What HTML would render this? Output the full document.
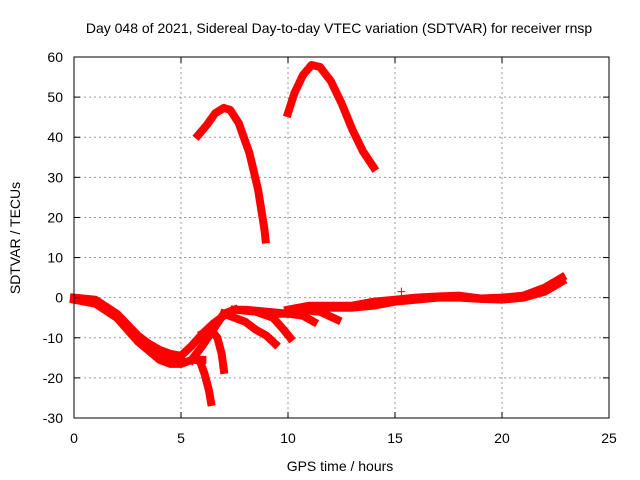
<!DOCTYPE html>
<html><head><meta charset="utf-8"><style>
body{margin:0;background:#fff;}
svg{display:block;font-family:"Liberation Sans",sans-serif;}
</style></head><body>
<svg id="chart" width="640" height="480" viewBox="0 0 640 480">
<rect width="640" height="480" fill="#fff"/>
<text x="339" y="33" font-size="14" text-anchor="middle">Day 048 of 2021, Sidereal Day-to-day VTEC variation (SDTVAR) for receiver rnsp</text>
<g id="grid"></g>
<g id="series"></g>
<rect x="74" y="57" width="535" height="361" fill="none" stroke="#000" stroke-width="1"/>
<g id="ticks"></g>
<text x="340" y="471" font-size="14" text-anchor="middle">GPS time / hours</text>
<text transform="translate(20,238) rotate(-90)" font-size="14" text-anchor="middle">SDTVAR / TECUs</text>
</svg>
<script>
const xTicks=[0,5,10,15,20,25];
const yTicks=[-30,-20,-10,0,10,20,30,40,50,60];
const trackLower=[[0,-0.5],[1,-1.5],[2,-5],[3,-11],[4,-15.5],[4.5,-16.5],[5,-16.5],[5.5,-15.5],[6,-15.5]];
const trackMid=[[0,-0.3],[1,-1],[2,-4.5],[3,-10.5],[4,-14.5],[4.5,-15.5],[5,-15.5]];
const trackUpper=[[0,0],[1,-0.5],[2,-4],[3,-9.5],[3.5,-11.5],[4,-13],[4.5,-14],[5,-14.5],[5.5,-12],[6,-9],[6.5,-6.5],[7,-4.5],[7.5,-3],[8,-3],[9,-3.5],[10,-4],[11,-3],[12,-2.5],[13,-2.5],[14,-2],[15,-1],[16,-0.5],[17,0],[18,0],[19,-0.3],[20,-0.5],[21,0],[22,1.5],[22.8,4]];
const trackUpper2=[[10,-3],[11,-2],[12,-2],[13,-2],[14,-1],[15,-0.5],[16,0],[17,0.3],[18,0.5],[19,-0.2],[20,0],[21,0.5],[22,2.5],[22.8,5]];
const trackDrop=[[5.6,-15],[5.9,-16],[6.1,-19],[6.3,-23],[6.4,-26]];
const trackHook=[[6.0,-9],[6.4,-8],[6.7,-10],[6.9,-14],[7.0,-18]];
const trackRise=[[5.5,-15.5],[6,-12],[6.5,-8],[7,-4],[7.5,-3]];
const branchA=[[7,-4],[8,-6],[8.5,-8],[9,-9.5],[9.4,-11.5]];
const branchB=[[7.5,-3],[8.5,-3.5],[9.3,-5],[9.8,-8],[10.1,-10]];
const branchC=[[9,-4],[10,-4],[10.7,-4.5],[11.2,-6]];
const branchD=[[10.5,-3],[11.5,-3.5],[12.3,-5.5]];
const peak1=[[5.8,40.5],[6.2,43],[6.6,46],[7,47.3],[7.3,46.8],[7.7,43.5],[8.2,36],[8.6,27],[8.9,17],[8.95,14.5]];
const peak2=[[10,46],[10.3,51],[10.7,55.5],[11.1,58],[11.5,57.5],[12,54],[12.5,48.5],[13,42],[13.5,36.5],[14,32.5]];
const tracks=[trackLower,trackMid,trackUpper,trackUpper2,trackDrop,trackHook,trackRise,branchA,branchB,branchC,branchD,peak1,peak2];
const marker=[[15.3,1.5]];
const X=h=>74+h*535/25;
const Y=v=>57+(60-v)*361/90;
const NS='http://www.w3.org/2000/svg';
const grid=document.getElementById('grid'),ticks=document.getElementById('ticks'),series=document.getElementById('series');
function mk(t,a,p){const e=document.createElementNS(NS,t);for(const k in a)e.setAttribute(k,a[k]);p.appendChild(e);return e;}
xTicks.forEach(t=>{
 if(t>0&&t<25){const g=mk('line',{x1:X(t),x2:X(t),y1:57,y2:418,stroke:'#999','stroke-dasharray':'2,3'},grid);
 
 }
 const a=mk('line',{x1:X(t),x2:X(t),y1:418,y2:412,stroke:'#000'},ticks);
 
 
 mk('line',{x1:X(t),x2:X(t),y1:57,y2:63,stroke:'#000'},ticks);
 const l=mk('text',{x:X(t),y:443,'font-size':14,'text-anchor':'middle'},ticks);l.textContent=t;
 
 
});
yTicks.forEach(t=>{
 if(t>-30&&t<60){const g=mk('line',{x1:74,x2:609,y1:Y(t),y2:Y(t),stroke:'#999','stroke-dasharray':'2,3'},grid);
 
 }
 const a=mk('line',{x1:74,x2:80,y1:Y(t),y2:Y(t),stroke:'#000'},ticks);
 
 
 mk('line',{x1:603,x2:609,y1:Y(t),y2:Y(t),stroke:'#000'},ticks);
 const l=mk('text',{x:63,y:Y(t)+5,'font-size':14,'text-anchor':'end'},ticks);l.textContent=t;
 
 
});
tracks.forEach(tr=>{
 const p=mk('polyline',{points:tr.map(d=>X(d[0])+','+Y(d[1])).join(' '),fill:'none',stroke:'#f00','stroke-width':8,'stroke-linejoin':'round','stroke-linecap':'square'},series);
 
 
});
marker.forEach(d=>{
 const m=mk('path',{d:`M${X(d[0])-4},${Y(d[1])}h8M${X(d[0])},${Y(d[1])-4}v8`,stroke:'#f00','stroke-width':1},series);
 
 
});
</script>
</body></html>
